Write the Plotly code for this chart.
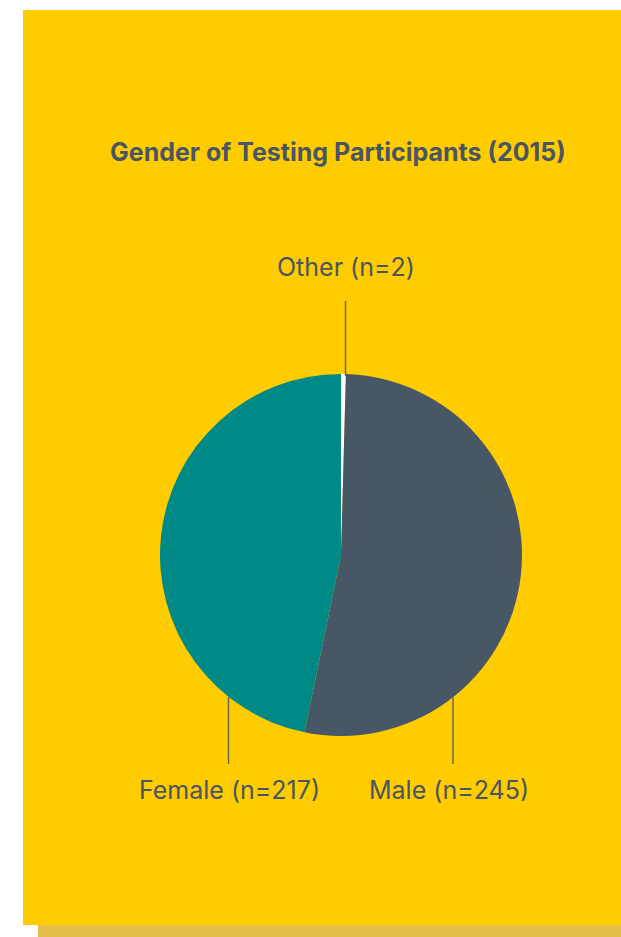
import plotly.graph_objects as go

categories = ["Other", "Male", "Female"]
counts = [2, 245, 217]
slice_colors = ["#FFFFFF", "#475765", "#008A87"]
label_texts = ["Other (n=2)", "Male (n=245)", "Female (n=217)"]

W, H = 621, 937

def px(x):
    return x / W

def py(y):
    return 1 - y / H

fig = go.Figure()
fig.add_trace(go.Pie(
    labels=categories,
    values=counts,
    sort=False,
    direction="clockwise",
    rotation=0,
    marker=dict(colors=slice_colors, line=dict(width=0)),
    textinfo="none",
    hoverinfo="label+value",
    showlegend=False,
    domain=dict(x=[px(160), px(522)], y=[py(736), py(374)]),
))

text_color = "#4A5563"
line_color = "#6E6A55"

shapes = [
    dict(type="rect", xref="paper", yref="paper", x0=px(38), x1=1.05, y0=-0.05, y1=py(25),
         fillcolor="#E3BF4A", line=dict(width=0), layer="below"),
    dict(type="rect", xref="paper", yref="paper", x0=px(23), x1=1.05, y0=py(925), y1=py(10),
         fillcolor="#FFCC00", line=dict(width=0), layer="below"),
    dict(type="line", xref="paper", yref="paper", x0=px(345.5), x1=px(345.5), y0=py(301), y1=py(376),
         line=dict(color=line_color, width=1.5)),
    dict(type="line", xref="paper", yref="paper", x0=px(228.5), x1=px(228.5), y0=py(697), y1=py(764),
         line=dict(color=line_color, width=1.5)),
    dict(type="line", xref="paper", yref="paper", x0=px(453), x1=px(453), y0=py(697), y1=py(764),
         line=dict(color=line_color, width=1.5)),
]

label_pos = {
    "Other (n=2)": (345.5, 267),
    "Male (n=245)": (448.5, 790),
    "Female (n=217)": (229.5, 790),
}

annotations = [
    dict(text="<b>Gender of Testing Participants (2015)</b>", xref="paper", yref="paper",
         x=px(338), y=py(152), showarrow=False, xanchor="center", yanchor="middle",
         font=dict(family="Inter", size=25, color=text_color)),
]
for t in label_texts:
    x, y = label_pos[t]
    annotations.append(dict(text=t, xref="paper", yref="paper", x=px(x), y=py(y),
                            showarrow=False, xanchor="center", yanchor="middle",
                            font=dict(family="Inter", size=25, color=text_color)))

fig.update_layout(
    width=W, height=H,
    margin=dict(l=0, r=0, t=0, b=0),
    paper_bgcolor="#FFFFFF",
    plot_bgcolor="#FFFFFF",
    shapes=shapes,
    annotations=annotations,
)

fig.write_html("out.html", config={"displayModeBar": False},
               post_script="document.body.style.margin='0';document.body.style.overflow='hidden';")
